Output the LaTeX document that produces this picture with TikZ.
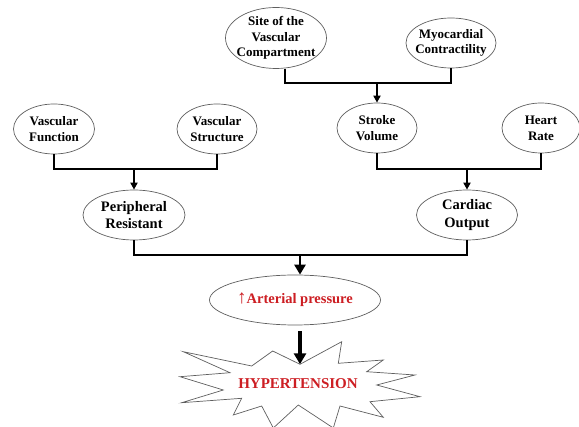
\documentclass[tikz,border=0pt]{standalone}
\usepackage{fontspec}
\setmainfont{Liberation Serif}
\usetikzlibrary{shapes.geometric,arrows.meta}
\definecolor{myred}{RGB}{205,30,35}
\definecolor{edgegray}{RGB}{95,95,95}
\begin{document}
\begin{tikzpicture}[x=1pt,y=-1pt,
  ell/.style={ellipse, draw=edgegray, line width=0.7pt, fill=white, inner sep=-25pt, align=center,
    font=\fontsize{13}{15.7}\selectfont\bfseries, minimum height=50pt},
  ellb/.style={ell, font=\fontsize{14.5}{17.7}\selectfont\bfseries},
  conn/.style={line width=2pt, line join=miter},
  arr/.style={line width=2pt, -{Triangle[width=7pt,length=7pt]}},
  arrb/.style={line width=2.5pt, -{Triangle[width=11pt,length=10pt]}},
  bigarr/.style={line width=3.5pt, -{Triangle[width=12pt,length=11pt]}}
]
\useasboundingbox (0,0) rectangle (579,427);

% top row
\node[ell, minimum width=101pt, minimum height=61pt] (site) at (276,38) {Site of the\\Vascular\\Compartment};
\node[ell, minimum width=90pt] (myo) at (451,43) {Myocardial\\Contractility};

% second row
\node[ell, minimum width=81pt] (vf) at (54,129) {Vascular\\Function};
\node[ell, minimum width=80pt] (vs) at (217,129) {Vascular\\Structure};
\node[ell, minimum width=80pt] (sv) at (377,128) {Stroke\\Volume};
\node[ell, minimum width=78pt] (hr) at (541,128) {Heart\\Rate};

% third row
\node[ellb, minimum width=102pt] (pr) at (134,215) {Peripheral\\Resistant};
\node[ellb, minimum width=101pt] (co) at (467,215) {Cardiac\\Output};

% arterial pressure
\node[ellb, minimum width=171pt, text=myred] (art) at (295,300) {{\fontsize{19}{19}\selectfont\mdseries ↑}Arterial pressure};

% starburst
\draw[draw=edgegray, line width=0.7pt, fill=white]
  (183.3,351.7) -- (251.7,366) -- (272.7,351) -- (300,364.3) -- (341.7,341.7) -- (338.3,363.3)
  -- (383.3,360) -- (366.7,371.7) -- (415,375) -- (376.7,385) -- (420,396.7) -- (370,401.7)
  -- (383.3,417.3) -- (340,406) -- (333.3,428) -- (298.3,405) -- (273.3,428) -- (261.7,406)
  -- (233.3,415) -- (241.7,398.3) -- (181.7,402.7) -- (223.3,390) -- (180,376.7) -- (230,372.7) -- cycle;
\coordinate (bursttop) at (300,364.3);
\node[text=myred, font=\fontsize{15}{17}\selectfont\bfseries] (ht) at (298,383.5) {HYPERTENSION};

% junctions
\coordinate (j1) at (285,83);
\coordinate (j2) at (0,169);
\coordinate (j3) at (300,255);

% connectors
\draw[conn] (site.south -| j1) -- (j1) -| (myo.south);
\draw[arr] (sv.north |- j1) -- (sv.north);

\draw[conn] (vf.south) -- (vf.south |- j2) -| (vs.south);
\draw[arr] (pr.north |- j2) -- (pr.north);

\draw[conn] (sv.south) -- (sv.south |- j2) -| (hr.south);
\draw[arr] (co.north |- j2) -- (co.north);

\draw[conn] (pr.south) -- (pr.south |- j3) -| (co.south);
\draw[arrb] (j3) -- (j3 |- art.north);

\draw[bigarr] ([yshift=-6pt]art.south -| j3) -- (bursttop);
\end{tikzpicture}
\end{document}
